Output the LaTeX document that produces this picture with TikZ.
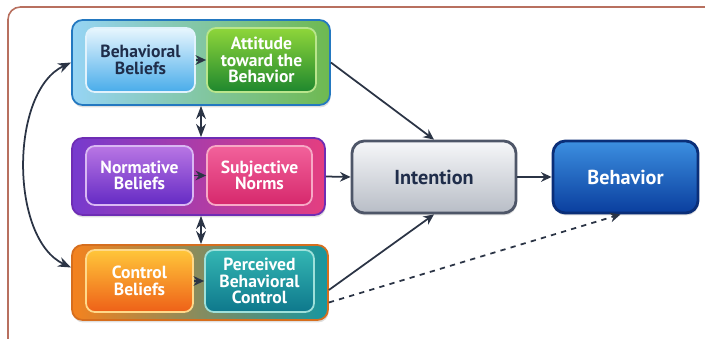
\documentclass[tikz,border=0pt]{standalone}
\usepackage{fontspec}
\setmainfont{PT Sans}
\usetikzlibrary{arrows.meta,positioning,calc,shadows}
\definecolor{arrowc}{HTML}{2B3445}
\definecolor{framec}{HTML}{B8705F}
\definecolor{navytext}{HTML}{1F2D4A}

\begin{document}
\begin{tikzpicture}[
  grp/.style={draw, rounded corners=6pt, line width=1pt,
    drop shadow={opacity=0.25, shadow xshift=0.4pt, shadow yshift=-1.4pt}},
  inbox/.style={draw, rounded corners=5pt, line width=1pt, align=center, inner sep=1pt,
    text=white, font=\bfseries\fontsize{10}{9.4}\selectfont},
  mainbox/.style={draw, rounded corners=7pt, line width=1.6pt, align=center,
    minimum width=3.28cm, minimum height=1.44cm,
    font=\bfseries\fontsize{11.5}{12}\selectfont,
    drop shadow={opacity=0.25, shadow xshift=0.4pt, shadow yshift=-1.4pt}},
  link/.style={-{Stealth[length=6pt,width=5.5pt]}, line width=1pt, draw=arrowc},
  >=Stealth
]
\useasboundingbox (0,0) rectangle (14.1,-6.78);

% outer frame, runs off the right and bottom edge
\draw[framec, line width=0.9pt, rounded corners=7pt] (0.16,-0.14) rectangle (14.6,-7.1);

% three belief groups
\node[grp, minimum width=5.16cm, minimum height=1.7cm, draw={rgb,255:red,35;green,120;blue,192},
  left color={rgb,255:red,150;green,212;blue,245}, middle color={rgb,255:red,40;green,140;blue,215},
  right color={rgb,255:red,110;green,185;blue,80}] (grpAtt) at (4.02,-1.25) {};
\node[grp, minimum width=5.06cm, minimum height=1.54cm, draw={rgb,255:red,110;green,45;blue,180},
  left color={rgb,255:red,118;green,58;blue,206}, right color={rgb,255:red,228;green,62;blue,128}] (grpNorm) at (3.97,-3.53) {};
\node[grp, minimum width=5.12cm, minimum height=1.5cm, draw={rgb,255:red,214;green,110;blue,30},
  left color={rgb,255:red,245;green,130;blue,30}, middle color={rgb,255:red,200;green,160;blue,60},
  right color={rgb,255:red,22;green,150;blue,160}] (grpCtrl) at (4.0,-5.65) {};

% inner boxes
\node[inbox, minimum width=2.18cm, minimum height=1.28cm, text=navytext, draw={rgb,255:red,225;green,242;blue,252},
  top color={rgb,255:red,232;green,246;blue,254}, bottom color={rgb,255:red,72;green,172;blue,234}] (bb) at (2.81,-1.2) {Behavioral\\Beliefs};
\node[inbox, minimum width=2.18cm, minimum height=1.28cm, draw={rgb,255:red,185;green,229;blue,140},
  top color={rgb,255:red,143;green,214;blue,58}, bottom color={rgb,255:red,30;green,135;blue,46}] (att) at (5.23,-1.2) {Attitude\\toward the\\Behavior};

\node[inbox, minimum width=2.14cm, minimum height=1.18cm, draw={rgb,255:red,217;green,184;blue,243},
  top color={rgb,255:red,185;green,118;blue,228}, bottom color={rgb,255:red,100;green,42;blue,196}] (nb) at (2.79,-3.51) {Normative\\Beliefs};
\node[inbox, minimum width=2.1cm, minimum height=1.18cm, draw={rgb,255:red,247;green,169;blue,198},
  top color={rgb,255:red,242;green,98;blue,155}, bottom color={rgb,255:red,214;green,40;blue,108}] (sn) at (5.19,-3.51) {Subjective\\Norms};

\node[inbox, minimum width=2.14cm, minimum height=1.24cm, draw={rgb,255:red,255;green,217;blue,138},
  top color={rgb,255:red,255;green,198;blue,58}, bottom color={rgb,255:red,238;green,96;blue,24}] (cb) at (2.79,-5.62) {Control\\Beliefs};
\node[inbox, minimum width=2.18cm, minimum height=1.24cm, draw={rgb,255:red,158;green,224;blue,218},
  top color={rgb,255:red,52;green,182;blue,179}, bottom color={rgb,255:red,14;green,120;blue,140}] (pbc) at (5.19,-5.62) {Perceived\\Behavioral\\Control};

% intention and behavior
\node[mainbox, text=navytext, draw={rgb,255:red,78;green,86;blue,104},
  top color={rgb,255:red,246;green,247;blue,249}, bottom color={rgb,255:red,184;green,189;blue,198}] (int) at (8.68,-3.54) {Intention};
\node[mainbox, minimum width=2.9cm, text=white, draw={rgb,255:red,10;green,46;blue,120},
  top color={rgb,255:red,60;green,143;blue,224}, bottom color={rgb,255:red,10;green,62;blue,158}] (beh) at (12.51,-3.54) {Behavior};

% arrows inside the groups
\draw[link] (bb) -- (att);
\draw[link] (nb) -- (sn);
\draw[link] (cb) -- (pbc);

% correlations between the belief groups
\draw[<->, arrowc, line width=1pt] (grpAtt.south) -- (grpAtt.south |- grpNorm.north);
\draw[<->, arrowc, line width=1pt] (grpAtt.south |- grpNorm.south) -- (grpAtt.south |- grpCtrl.north);
\draw[<->, arrowc, line width=1pt] (grpAtt.west) to[out=205, in=155, looseness=0.85] ([yshift=0.3cm]grpCtrl.west);

% paths into intention and behavior
\draw[link] (grpAtt.east) -- (int.north);
\draw[link] (grpNorm.east) -- (int.west);
\draw[link] ([yshift=-0.15cm]grpCtrl.east) -- (int.south);
\draw[link, dashed] ([yshift=-0.4cm]grpCtrl.east) -- ([xshift=-0.1cm]beh.south);
\draw[link] (int) -- (beh);
\end{tikzpicture}
\end{document}
